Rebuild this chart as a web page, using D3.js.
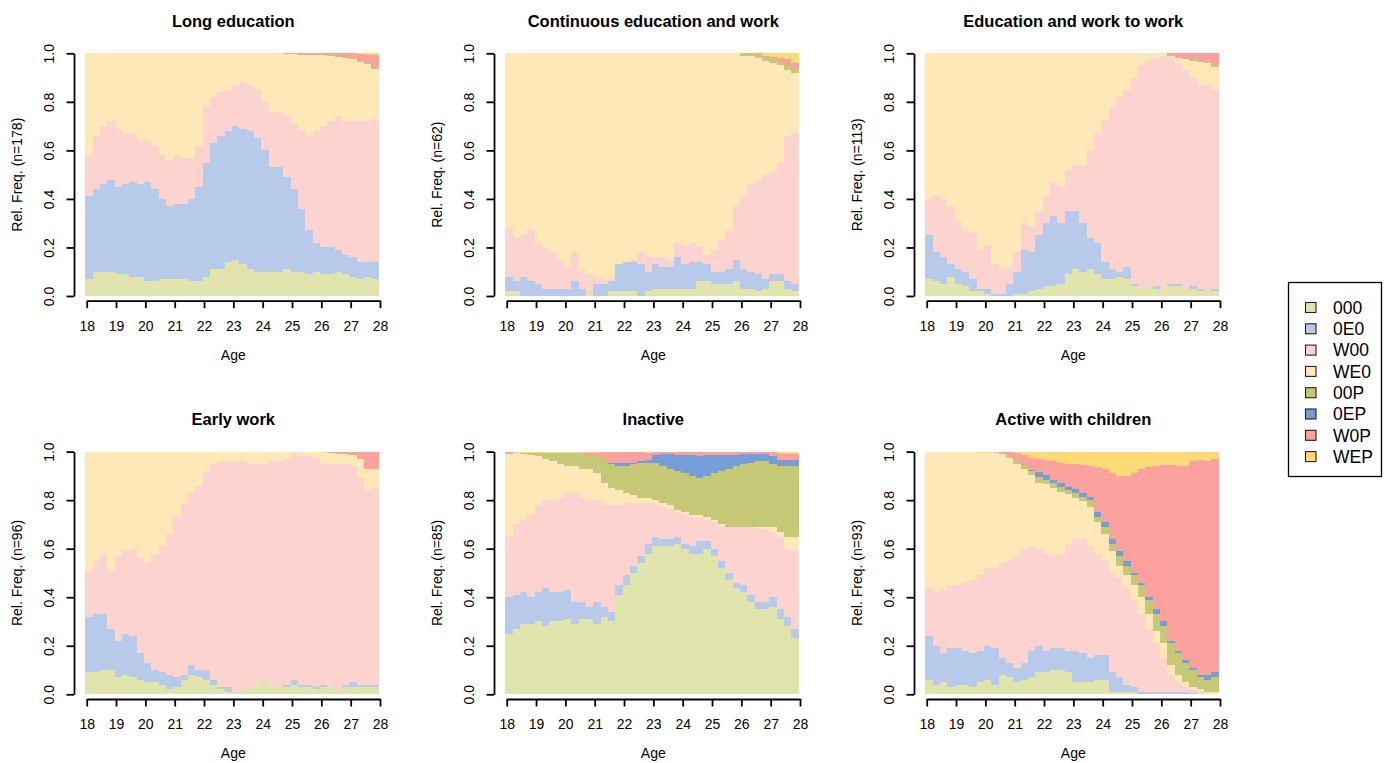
<!DOCTYPE html>
<html>
<head>
<meta charset="utf-8">
<script src="https://cdn.jsdelivr.net/npm/d3@7"></script>
<style>
  body { margin: 0; background: #fff; }
  svg { display: block; font-family: "Liberation Sans", Arial, sans-serif; }
</style>
</head>
<body>
<svg id="chart" width="1392" height="763"></svg>
<script>
// ===== State distribution plots, one per cluster =====

const states = ["000", "0E0", "W00", "WE0", "00P", "0EP", "W0P", "WEP"];
const stateColors = ["#e2e4ad", "#b8cae9", "#fdd3d0", "#fee8b8", "#c5c976", "#769dd6", "#fba29e", "#fdd978"];

// quarter-year steps from age 18 to 27.75
const ages = d3.range(18, 28, 0.25);
const xTicks = [18, 19, 20, 21, 22, 23, 24, 25, 26, 27, 28];
const yTicks = [0, 0.2, 0.4, 0.6, 0.8, 1.0];

const titles = ["Long education", "Continuous education and work", "Education and work to work",
                "Early work", "Inactive", "Active with children"];
const groupSizes = [178, 62, 113, 96, 85, 93];

// cumulative upper bound of each state (000 .. W0P); WEP fills up to 1
const longEducation = [
  [0.07,0.10,0.10,0.10, 0.09,0.09,0.08,0.08, 0.06,0.06,0.07,0.07, 0.07,0.07,0.06,0.06, 0.08,0.11,0.11,0.14, 0.15,0.13,0.11,0.10, 0.10,0.10,0.10,0.11, 0.10,0.10,0.09,0.10, 0.09,0.09,0.10,0.09, 0.08,0.07,0.08,0.07],
  [0.41,0.44,0.46,0.48, 0.45,0.46,0.47,0.46, 0.47,0.44,0.40,0.37, 0.38,0.38,0.40,0.45, 0.55,0.63,0.66,0.68, 0.70,0.69,0.68,0.65, 0.60,0.53,0.53,0.49, 0.44,0.36,0.27,0.22, 0.20,0.20,0.19,0.17, 0.16,0.14,0.14,0.14],
  [0.58,0.66,0.70,0.72, 0.69,0.67,0.67,0.64, 0.64,0.62,0.58,0.56, 0.58,0.57,0.57,0.62, 0.78,0.82,0.84,0.85, 0.87,0.88,0.87,0.85, 0.80,0.76,0.76,0.74, 0.71,0.68,0.66,0.68, 0.70,0.72,0.74,0.72, 0.72,0.72,0.72,0.73],
  [1,1,1,1, 1,1,1,1, 1,1,1,1, 1,1,1,1, 1,1,1,1, 1,1,1,1, 1,1,1,0.997, 0.996,0.995,0.995,0.995, 0.993,0.99,0.985,0.98, 0.975,0.965,0.955,0.935],
  [1,1,1,1, 1,1,1,1, 1,1,1,1, 1,1,1,1, 1,1,1,1, 1,1,1,1, 1,1,1,0.997, 0.996,0.995,0.995,0.995, 0.993,0.993,0.99,0.985, 0.98,0.97,0.96,0.94],
  [1,1,1,1, 1,1,1,1, 1,1,1,1, 1,1,1,1, 1,1,1,1, 1,1,1,1, 1,1,1,0.997, 0.996,0.995,0.995,0.995, 0.993,0.993,0.99,0.985, 0.98,0.97,0.96,0.94],
  [1,1,1,1, 1,1,1,1, 1,1,1,1, 1,1,1,1, 1,1,1,1, 1,1,1,1, 1,1,1,1, 1,1,1,1, 1,1,1,1, 1,0.997,0.995,0.995]
];

const continuousEduWork = [
  [0.02,0.02,0.00,0.00, 0.00,0.00,0.00,0.00, 0.00,0.00,0.00,0.02, 0.00,0.00,0.02,0.02, 0.02,0.02,0.00,0.02, 0.03,0.03,0.03,0.03, 0.03,0.03,0.06,0.06, 0.05,0.05,0.05,0.06, 0.03,0.03,0.02,0.03, 0.06,0.06,0.03,0.02],
  [0.08,0.06,0.08,0.06, 0.05,0.03,0.03,0.03, 0.03,0.06,0.03,0.02, 0.05,0.05,0.06,0.13, 0.14,0.14,0.13,0.10, 0.13,0.12,0.12,0.16, 0.13,0.14,0.14,0.13, 0.10,0.10,0.11,0.15, 0.11,0.10,0.09,0.07, 0.09,0.09,0.06,0.05],
  [0.28,0.24,0.25,0.27, 0.22,0.20,0.18,0.15, 0.12,0.18,0.11,0.09, 0.08,0.066,0.07,0.13, 0.14,0.15,0.18,0.16, 0.16,0.16,0.15,0.22, 0.21,0.22,0.20,0.17, 0.19,0.23,0.27,0.37, 0.41,0.46,0.48,0.50, 0.51,0.55,0.66,0.67],
  [1,1,1,1, 1,1,1,1, 1,1,1,1, 1,1,1,1, 1,1,1,1, 1,1,1,1, 1,1,1,1, 1,1,1,1, 0.99,0.99,0.98,0.97, 0.96,0.95,0.93,0.92],
  [1,1,1,1, 1,1,1,1, 1,1,1,1, 1,1,1,1, 1,1,1,1, 1,1,1,1, 1,1,1,1, 1,1,1,1, 1,1,0.995,0.985, 0.975,0.965,0.95,0.935],
  [1,1,1,1, 1,1,1,1, 1,1,1,1, 1,1,1,1, 1,1,1,1, 1,1,1,1, 1,1,1,1, 1,1,1,1, 1,1,0.995,0.985, 0.975,0.965,0.95,0.935],
  [1,1,1,1, 1,1,1,1, 1,1,1,1, 1,1,1,1, 1,1,1,1, 1,1,1,1, 1,1,1,1, 1,1,1,1, 1,1,1,0.99, 0.985,0.98,0.975,0.96]
];

const eduWorkToWork = [
  [0.07,0.06,0.05,0.08, 0.05,0.04,0.02,0.02, 0.01,0.00,0.00,0.00, 0.01,0.01,0.02,0.03, 0.04,0.04,0.05,0.09, 0.11,0.10,0.11,0.09, 0.07,0.07,0.08,0.07, 0.04,0.03,0.04,0.03, 0.03,0.04,0.04,0.03, 0.03,0.02,0.02,0.02],
  [0.25,0.18,0.16,0.13, 0.11,0.10,0.07,0.03, 0.03,0.01,0.01,0.05, 0.10,0.19,0.18,0.25, 0.30,0.33,0.30,0.35, 0.35,0.30,0.24,0.22, 0.14,0.11,0.10,0.12, 0.05,0.03,0.04,0.04, 0.03,0.05,0.05,0.03, 0.04,0.03,0.02,0.03],
  [0.40,0.41,0.40,0.37, 0.31,0.27,0.26,0.19, 0.21,0.13,0.11,0.12, 0.18,0.30,0.29,0.35, 0.41,0.47,0.45,0.52, 0.54,0.54,0.60,0.67, 0.72,0.78,0.82,0.85, 0.90,0.95,0.97,0.98, 0.99,0.98,0.96,0.93, 0.90,0.87,0.87,0.85],
  [1,1,1,1, 1,1,1,1, 1,1,1,1, 1,1,1,1, 1,1,1,1, 1,1,1,1, 1,1,1,1, 1,1,1,1, 1,0.99,0.98,0.975, 0.97,0.965,0.96,0.945],
  [1,1,1,1, 1,1,1,1, 1,1,1,1, 1,1,1,1, 1,1,1,1, 1,1,1,1, 1,1,1,1, 1,1,1,1, 1,0.99,0.98,0.975, 0.975,0.97,0.965,0.95],
  [1,1,1,1, 1,1,1,1, 1,1,1,1, 1,1,1,1, 1,1,1,1, 1,1,1,1, 1,1,1,1, 1,1,1,1, 1,0.99,0.98,0.975, 0.975,0.97,0.965,0.95],
  [1,1,1,1, 1,1,1,1, 1,1,1,1, 1,1,1,1, 1,1,1,1, 1,1,1,1, 1,1,1,1, 1,1,1,1, 1,1,1,1, 1,1,1,1]
];

const earlyWork = [
  [0.09,0.09,0.10,0.10, 0.07,0.08,0.07,0.06, 0.05,0.05,0.04,0.02, 0.03,0.06,0.08,0.07, 0.06,0.04,0.02,0.01, 0.01,0.02,0.03,0.04, 0.06,0.03,0.03,0.03, 0.04,0.03,0.03,0.02, 0.03,0.03,0.02,0.03, 0.03,0.03,0.03,0.03],
  [0.32,0.33,0.33,0.27, 0.22,0.25,0.24,0.17, 0.13,0.10,0.09,0.08, 0.07,0.08,0.12,0.10, 0.10,0.06,0.03,0.03, 0.01,0.02,0.03,0.04, 0.06,0.03,0.03,0.04, 0.06,0.04,0.04,0.03, 0.04,0.03,0.02,0.04, 0.05,0.04,0.04,0.04],
  [0.51,0.55,0.58,0.51, 0.57,0.59,0.60,0.56, 0.54,0.58,0.61,0.66, 0.73,0.79,0.83,0.86, 0.92,0.95,0.96,0.96, 0.96,0.96,0.95,0.95, 0.95,0.96,0.96,0.97, 0.99,0.98,0.98,0.97, 0.95,0.95,0.95,0.95, 0.94,0.89,0.84,0.85],
  [1,1,1,1, 1,1,1,1, 1,1,1,1, 1,1,1,1, 1,1,1,1, 1,1,1,1, 1,1,1,1, 1,1,1,1, 1,0.995,0.99,0.99, 0.985,0.97,0.93,0.93],
  [1,1,1,1, 1,1,1,1, 1,1,1,1, 1,1,1,1, 1,1,1,1, 1,1,1,1, 1,1,1,1, 1,1,1,1, 1,0.995,0.99,0.99, 0.985,0.97,0.93,0.93],
  [1,1,1,1, 1,1,1,1, 1,1,1,1, 1,1,1,1, 1,1,1,1, 1,1,1,1, 1,1,1,1, 1,1,1,1, 1,0.995,0.99,0.99, 0.985,0.97,0.93,0.93],
  [1,1,1,1, 1,1,1,1, 1,1,1,1, 1,1,1,1, 1,1,1,1, 1,1,1,1, 1,1,1,1, 1,1,1,1, 1,1,1,1, 1,1,0.997,0.997]
];

const inactive = [
  [0.25,0.27,0.29,0.29, 0.30,0.28,0.30,0.30, 0.31,0.29,0.31,0.31, 0.29,0.32,0.30,0.41, 0.45,0.50,0.54,0.58, 0.61,0.61,0.61,0.62, 0.60,0.58,0.58,0.60, 0.57,0.52,0.47,0.44, 0.42,0.38,0.35,0.35, 0.36,0.31,0.28,0.23],
  [0.40,0.41,0.42,0.40, 0.42,0.44,0.42,0.42, 0.43,0.38,0.38,0.36, 0.38,0.36,0.34,0.45, 0.49,0.53,0.57,0.62, 0.65,0.64,0.64,0.65, 0.62,0.61,0.63,0.63, 0.60,0.55,0.50,0.46, 0.45,0.41,0.38,0.38, 0.40,0.35,0.32,0.27],
  [0.65,0.70,0.72,0.74, 0.78,0.80,0.80,0.81, 0.83,0.83,0.81,0.80, 0.80,0.78,0.78,0.78, 0.79,0.79,0.79,0.79, 0.78,0.77,0.76,0.75, 0.74,0.73,0.73,0.72, 0.71,0.69,0.69,0.69, 0.69,0.69,0.68,0.68, 0.67,0.65,0.60,0.59],
  [0.99,0.993,0.99,0.985, 0.98,0.97,0.96,0.95, 0.94,0.94,0.93,0.93, 0.91,0.87,0.85,0.84, 0.83,0.82,0.81,0.81, 0.80,0.79,0.78,0.76, 0.75,0.74,0.74,0.73, 0.72,0.70,0.69,0.69, 0.69,0.69,0.69,0.69, 0.69,0.67,0.65,0.65],
  [0.99,0.995,0.995,0.995, 0.995,0.995,0.995,0.995, 0.995,0.995,0.99,0.98, 0.98,0.97,0.95,0.94, 0.94,0.95,0.955,0.955, 0.955,0.94,0.93,0.92, 0.91,0.90,0.89,0.90, 0.91,0.92,0.93,0.94, 0.95,0.955,0.96,0.96, 0.95,0.94,0.94,0.94],
  [0.99,0.995,0.995,0.995, 0.995,0.995,0.995,0.995, 0.995,0.995,0.99,0.98, 0.98,0.97,0.955,0.955, 0.955,0.955,0.96,0.965, 0.985,0.99,0.99,0.985, 0.985,0.985,0.98,0.985, 0.985,0.985,0.985,0.985, 0.99,0.99,0.99,0.99, 0.98,0.965,0.965,0.965],
  [1,0.995,0.995,0.995, 0.995,0.995,0.995,0.995, 0.995,0.995,0.995,0.995, 0.995,1,1,1, 1,1,1,0.995, 1,1,1,1, 1,1,1,1, 1,1,1,1, 1,1,1,1, 1,0.99,0.99,0.99]
];

const activeWithChildren = [
  [0.06,0.04,0.05,0.03, 0.04,0.04,0.03,0.05, 0.06,0.04,0.08,0.07, 0.05,0.06,0.07,0.09, 0.09,0.10,0.10,0.09, 0.05,0.05,0.05,0.06, 0.06,0.01,0.01,0.01, 0.01,0.00,0.00,0.00, 0.00,0.00,0.00,0.00, 0.00,0.00,0.00,0.00],
  [0.24,0.20,0.17,0.19, 0.19,0.18,0.17,0.18, 0.20,0.19,0.15,0.13, 0.11,0.13,0.18,0.20, 0.18,0.19,0.19,0.18, 0.18,0.17,0.15,0.16, 0.16,0.09,0.07,0.04, 0.03,0.01,0.01,0.01, 0.01,0.01,0.01,0.01, 0.005,0.00,0.00,0.00],
  [0.44,0.42,0.43,0.45, 0.45,0.46,0.47,0.49, 0.52,0.52,0.54,0.55, 0.57,0.60,0.61,0.60, 0.58,0.57,0.58,0.62, 0.64,0.64,0.61,0.58, 0.55,0.50,0.48,0.44, 0.39,0.33,0.27,0.21, 0.15,0.08,0.05,0.03, 0.02,0.01,0.00,0.00],
  [1,1,1,1, 1,1,1,0.995, 0.995,0.995,0.99,0.975, 0.95,0.93,0.905,0.87, 0.865,0.85,0.835,0.825, 0.81,0.795,0.77,0.71, 0.66,0.59,0.53,0.49, 0.45,0.40,0.33,0.26, 0.21,0.12,0.08,0.05, 0.03,0.02,0.01,0.01],
  [1,1,1,1, 1,1,1,0.995, 0.995,0.995,0.99,0.98, 0.96,0.945,0.92,0.895, 0.885,0.87,0.855,0.84, 0.83,0.815,0.80,0.73, 0.69,0.62,0.57,0.53, 0.49,0.45,0.39,0.33, 0.28,0.21,0.17,0.13, 0.10,0.07,0.06,0.07],
  [1,1,1,1, 1,1,1,0.995, 0.995,0.995,0.99,0.98, 0.96,0.945,0.925,0.915, 0.905,0.885,0.87,0.855, 0.845,0.83,0.815,0.75, 0.71,0.64,0.59,0.55, 0.50,0.46,0.40,0.35, 0.30,0.22,0.18,0.14, 0.11,0.08,0.08,0.09],
  [1,1,1,1, 1,1,1,0.995, 0.995,0.995,1,1, 0.995,0.985,0.975,0.97, 0.965,0.96,0.955,0.95, 0.95,0.945,0.94,0.935, 0.93,0.91,0.90,0.90, 0.91,0.93,0.935,0.94, 0.945,0.945,0.94,0.94, 0.96,0.965,0.96,0.97]
];

const panelData = [longEducation, continuousEduWork, eduWorkToWork, earlyWork, inactive, activeWithChildren];

// ---- layout ----
const svg = d3.select("#chart");
const colStep = 420, rowStep = 398.3;
const halfStep = 1 / 24;   // each step is centred on its tick, like R's barplot

panelData.forEach((cum, p) => {
  const ox = (p % 3) * colStep;
  const oy = Math.floor(p / 3) * rowStep;

  const x = d3.scaleLinear().domain([18, 28]).range([86.7 + ox, 380 + ox]);
  const y = d3.scaleLinear().domain([0, 1]).range([296 + oy, 53.3 + oy]);

  const g = svg.append("g");

  // bands: state k spans from the previous bound up to its own
  const steps = ages.concat([28]);
  states.forEach((s, k) => {
    const lower = i => k === 0 ? 0 : cum[k - 1][Math.min(i, 39)];
    const upper = i => k === 7 ? 1 : cum[k][Math.min(i, 39)];
    const area = d3.area()
      .curve(d3.curveStepAfter)
      .x(d => x(d - halfStep))
      .y0((d, i) => y(lower(i)))
      .y1((d, i) => y(upper(i)));
    g.append("path")
      .datum(steps)
      .attr("d", area)
      .attr("fill", stateColors[k])
      .attr("shape-rendering", "crispEdges");
  });

  // y axis, labels parallel to the axis
  const yAxis = g.append("g")
    .attr("transform", `translate(${74 + ox},0)`)
    .call(d3.axisLeft(y).tickValues(yTicks).tickFormat(d3.format(".1f")).tickSize(7.5).tickSizeOuter(0));
  yAxis.selectAll("text")
    .attr("transform", "rotate(-90)")
    .attr("x", 0).attr("y", -20.5).attr("dy", null)
    .attr("text-anchor", "middle");

  // x axis
  const xAxis = g.append("g")
    .attr("transform", `translate(0,${300.7 + oy})`)
    .call(d3.axisBottom(x).tickValues(xTicks).tickFormat(d3.format("d")).tickSize(7.5).tickSizeOuter(0).tickPadding(13));

  [yAxis, xAxis].forEach(a => {
    a.attr("font-size", 14).attr("font-family", "Liberation Sans, Arial, sans-serif");
    a.select(".domain").attr("stroke", "#000").attr("stroke-width", 1.8);
    a.selectAll(".tick line").attr("stroke", "#000").attr("stroke-width", 1.8);
    a.selectAll("text").attr("fill", "#000");
  });

  // titles and labels
  g.append("text")
    .attr("x", 233.3 + ox).attr("y", 27 + oy)
    .attr("text-anchor", "middle")
    .attr("font-size", 16.5).attr("font-weight", "bold")
    .text(titles[p]);

  g.append("text")
    .attr("x", 233.3 + ox).attr("y", 359.5 + oy)
    .attr("text-anchor", "middle")
    .attr("font-size", 14)
    .text("Age");

  g.append("text")
    .attr("transform", `translate(${22 + ox},${174.7 + oy}) rotate(-90)`)
    .attr("text-anchor", "middle")
    .attr("font-size", 14)
    .text(`Rel. Freq. (n=${groupSizes[p]})`);
});

// ---- legend ----
const legend = svg.append("g");
legend.append("rect")
  .attr("x", 1288.5).attr("y", 282.5).attr("width", 93).attr("height", 194)
  .attr("fill", "#fff").attr("stroke", "#000").attr("stroke-width", 1.3);

states.forEach((s, i) => {
  const cy = 307.5 + i * 21.3;
  legend.append("rect")
    .attr("x", 1305.5).attr("y", cy - 5).attr("width", 10.5).attr("height", 10)
    .attr("fill", stateColors[i]).attr("stroke", "#222").attr("stroke-width", 1.1);
  legend.append("text")
    .attr("x", 1333).attr("y", cy + 6.3)
    .attr("font-size", 17.5)
    .text(s);
});
</script>
</body>
</html>
